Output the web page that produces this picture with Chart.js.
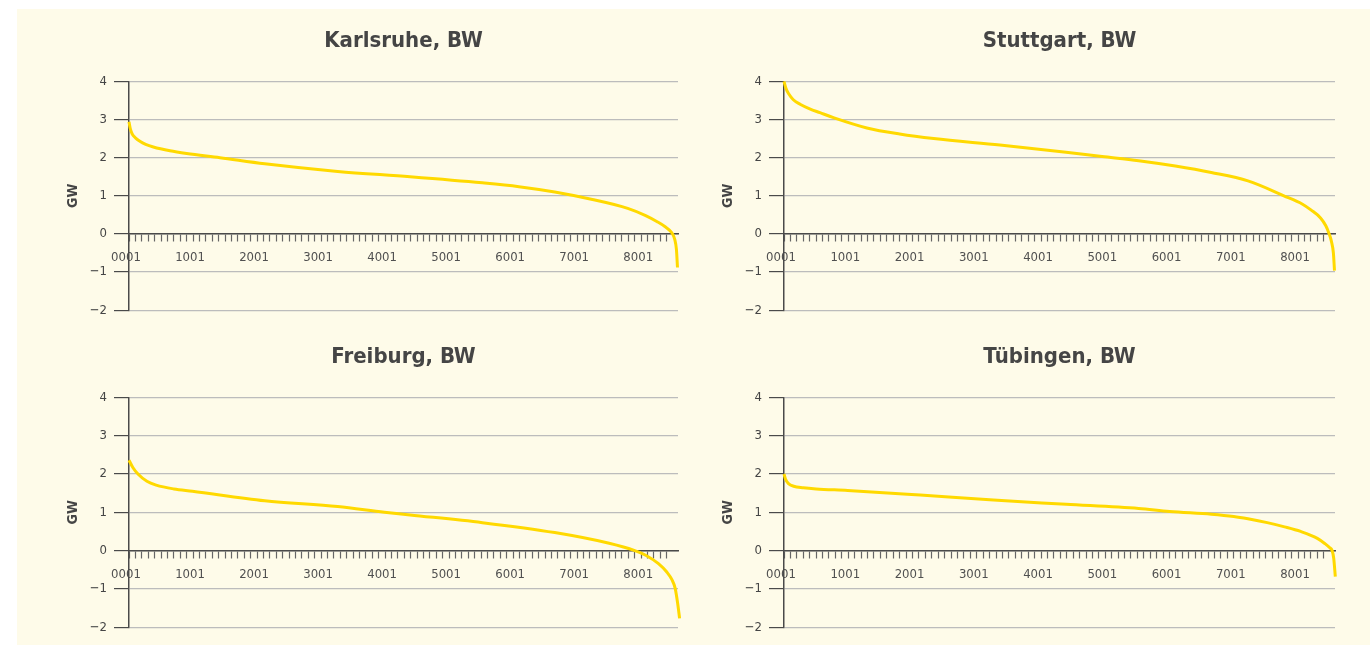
<!DOCTYPE html>
<html lang="de">
<head>
    <meta charset="UTF-8">
    <title>Residuallast BW</title>
    <style>
        body {
            margin: 0;
            background-color: #ffffff;
            width: 1370px;
            height: 647px;
            overflow: hidden;
        }
        .panel {
            position: absolute;
            left: 17px;
            top: 9px;
            width: 1353px;
            height: 636px;
            background-color: #fefbe9;
        }
        canvas {
            position: absolute;
        }
    </style>
</head>
<body>
    <div class="panel"></div>
    <canvas id="karlsruhe" width="628" height="315" style="left:60px; top:10px;"></canvas>
    <canvas id="stuttgart" width="630" height="315" style="left:715px; top:10px;"></canvas>
    <canvas id="freiburg" width="628" height="316" style="left:60px; top:326px;"></canvas>
    <canvas id="tuebingen" width="630" height="316" style="left:715px; top:326px;"></canvas>

    <script src="https://cdn.jsdelivr.net/npm/chart.js"></script>

    <script>
        // sorted hourly values (GW): hour index -> value
        const karlsruheHours = [0, 20, 50, 100, 170, 260, 380, 640, 900, 1420, 2120, 3260, 4390, 5520, 6090, 6650, 7220, 7790, 8070, 8250, 8375, 8440, 8490, 8525, 8550, 8567];
        const karlsruheValues = [2.94, 2.76, 2.62, 2.52, 2.43, 2.35, 2.28, 2.18, 2.11, 2.00, 1.84, 1.64, 1.50, 1.34, 1.24, 1.10, 0.91, 0.67, 0.48, 0.32, 0.19, 0.10, 0.00, -0.15, -0.40, -0.88];

        const stuttgartHours = [0, 30, 70, 145, 250, 400, 560, 770, 1290, 1800, 2330, 3360, 4390, 4950, 5520, 6090, 6650, 7220, 7780, 8070, 8200, 8350, 8430, 8480, 8520, 8550, 8567];
        const stuttgartValues = [4.0, 3.82, 3.68, 3.52, 3.40, 3.28, 3.18, 3.05, 2.78, 2.62, 2.50, 2.33, 2.14, 2.03, 1.92, 1.78, 1.61, 1.39, 1.00, 0.78, 0.63, 0.42, 0.22, 0.02, -0.20, -0.50, -0.96];

        const freiburgHours = [0, 60, 140, 280, 425, 700, 990, 2120, 3260, 3990, 4390, 5520, 6650, 7500, 7900, 8070, 8270, 8400, 8480, 8530, 8570, 8600];
        const freiburgValues = [2.36, 2.17, 2.00, 1.81, 1.71, 1.61, 1.55, 1.30, 1.15, 1.00, 0.93, 0.73, 0.47, 0.19, 0.00, -0.12, -0.34, -0.56, -0.76, -0.98, -1.38, -1.77];

        const tuebingenHours = [0, 25, 70, 150, 300, 500, 990, 2120, 3260, 4390, 5520, 6000, 6650, 7000, 7220, 7520, 7790, 8040, 8300, 8420, 8490, 8530, 8555, 8580];
        const tuebingenValues = [2.00, 1.86, 1.75, 1.68, 1.64, 1.61, 1.57, 1.45, 1.32, 1.21, 1.10, 1.02, 0.95, 0.89, 0.83, 0.73, 0.62, 0.50, 0.32, 0.18, 0.08, 0.00, -0.20, -0.68];

        const yTicks = [-2, -1, 0, 1, 2, 3, 4];
        const xLabelEvery = 1000;
        const xMinorStep = 100;
        const xMax = 8575;

        const fontFamily = '"Liberation Sans Narrow", "DejaVu Sans Condensed", "Roboto", sans-serif';

        function makeChart(id, title, hours, values) {
            const points = hours.map((h, i) => ({ x: h, y: values[i] }));
            return new Chart(document.getElementById(id), {
                type: 'line',
                data: {
                    datasets: [{
                        data: points,
                        borderColor: '#ffd900',
                        borderWidth: 3,
                        pointRadius: 0,
                        fill: false,
                        cubicInterpolationMode: 'monotone',
                        clip: false
                    }]
                },
                options: {
                    responsive: false,
                    animation: false,
                    devicePixelRatio: 1,
                    layout: { padding: { right: 10, bottom: 10, left: 0, top: 0 } },
                    plugins: {
                        legend: { display: false },
                        tooltip: { enabled: false },
                        title: {
                            display: true,
                            text: title,
                            fullSize: false,
                            color: '#454545',
                            font: { family: fontFamily, size: 22, weight: 'bold' },
                            padding: { top: 18, bottom: 27 }
                        }
                    },
                    scales: {
                        x: {
                            type: 'linear',
                            position: { y: 0 },
                            min: 0,
                            max: xMax,
                            // minor ticks every 100 h only, no extra tick at the axis end
                            afterBuildTicks: scale => {
                                scale.ticks = scale.ticks.filter(t => t.value % xMinorStep === 0);
                            },
                            ticks: {
                                stepSize: xMinorStep,
                                autoSkip: false,
                                maxRotation: 0,
                                labelOffset: -3,
                                padding: 9,
                                color: '#505050',
                                font: { family: fontFamily, size: 13 },
                                callback: v => v % xLabelEvery === 0 ? String(v + 1).padStart(4, '0') : ''
                            },
                            grid: {
                                drawOnChartArea: false,
                                tickLength: 7,
                                tickColor: '#666666',
                                tickWidth: 1.2
                            },
                            border: { color: '#4a4a4a', width: 1.5 }
                        },
                        y: {
                            min: -2,
                            max: 4,
                            afterFit: scale => { scale.width = 69; },
                            afterBuildTicks: scale => { scale.ticks = yTicks.map(v => ({ value: v })); },
                            ticks: {
                                padding: 7,
                                color: '#454545',
                                font: { family: fontFamily, size: 13 },
                                callback: v => v < 0 ? '\u2212' + Math.abs(v) : String(v)
                            },
                            grid: {
                                color: '#bcbcbc',
                                lineWidth: 1.2,
                                tickLength: 15,
                                tickColor: '#4a4a4a',
                                tickWidth: 1.2
                            },
                            border: { color: '#4a4a4a', width: 1.5 },
                            title: {
                                display: true,
                                text: 'GW',
                                color: '#454545',
                                font: { family: fontFamily, size: 14, weight: 'bold' },
                                padding: { top: 5, bottom: 4 }
                            }
                        }
                    }
                }
            });
        }

        makeChart('karlsruhe', 'Karlsruhe, BW', karlsruheHours, karlsruheValues);
        makeChart('stuttgart', 'Stuttgart, BW', stuttgartHours, stuttgartValues);
        makeChart('freiburg', 'Freiburg, BW', freiburgHours, freiburgValues);
        makeChart('tuebingen', 'Tübingen, BW', tuebingenHours, tuebingenValues);
    </script>
</body>
</html>
